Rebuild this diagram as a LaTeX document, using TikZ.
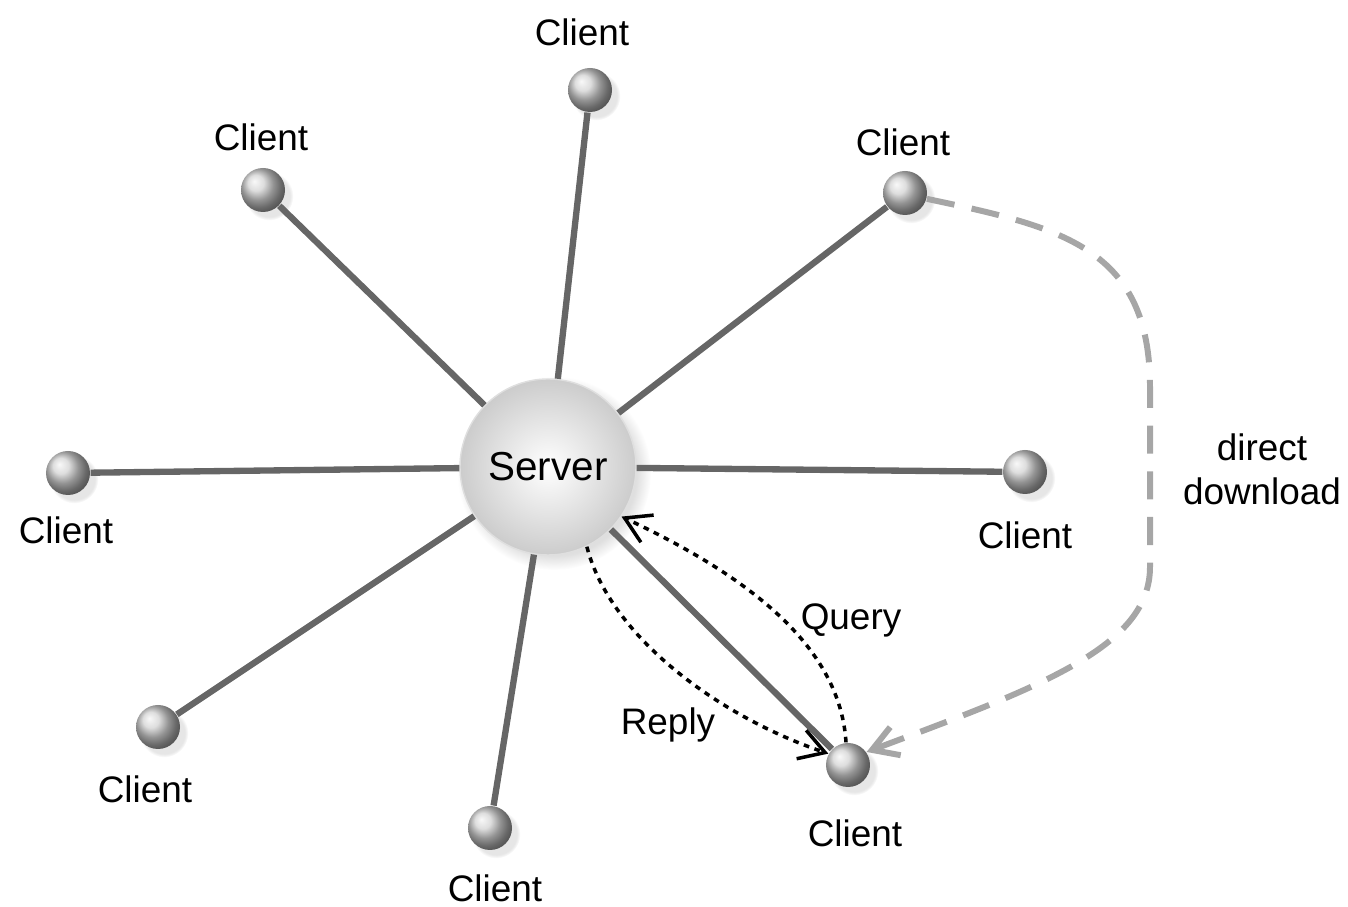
\documentclass[tikz,border=0pt]{standalone}
\usepackage{fontspec}
\setmainfont{Liberation Sans}
\usetikzlibrary{arrows.meta,shadows}

\begin{document}
\begin{tikzpicture}[
 >={Straight Barb[length=2.5mm,width=3mm]},
 align=center,
 font=\fontsize{10.5}{12.5}\selectfont,
 server/.style={circle,minimum size=1.76cm,inner sep=0pt,shading=radial,inner color=white,outer color=gray!40,draw=gray!25,circular drop shadow={opacity=0.25},font=\fontsize{11.5}{13}\selectfont},
 client/.style={circle,minimum size=0.44cm,inner sep=0pt,ball color=gray!35,circular drop shadow={opacity=0.2}},
 link/.style={draw=gray!80!black,line width=1.8pt},
 msg/.style={->,dash pattern=on 1.6pt off 1.6pt,line width=1pt,black},
 download/.style={->,dash pattern=on 8pt off 5pt,line width=1.7pt,gray!70}
]
\useasboundingbox (0,0) rectangle (13.48,9.07);
\node (server) [server] at (5.48,4.40) {Server};
% clients round the server
\node (ct) [client] at (5.90,8.17) {};
\node (ctl) [client] at (2.63,7.17) {};
\node (ctr) [client] at (9.05,7.14) {};
\node (cl) [client] at (0.68,4.34) {};
\node (cr) [client] at (10.25,4.35) {};
\node (cbl) [client] at (1.58,1.80) {};
\node (cb) [client] at (4.90,0.79) {};
\node (cbr) [client] at (8.48,1.42) {};
\node (ct-txt) at (5.82,8.75) {Client};
\node (ctl-txt) at (2.61,7.70) {Client};
\node (ctr-txt) at (9.03,7.65) {Client};
\node (cl-txt) at (0.66,3.77) {Client};
\node (cr-txt) at (10.25,3.72) {Client};
\node (cbl-txt) at (1.45,1.18) {Client};
\node (cb-txt) at (4.95,0.19) {Client};
\node (cbr-txt) at (8.55,0.74) {Client};
\foreach \c in {ct,ctl,ctr,cl,cr,cbl,cb,cbr}
  \draw [link] (server) -- (\c);
% query and reply
\draw [msg] (cbr.95) .. controls (8.40,2.60) and (7.50,3.30) .. (server.-34);
\draw [msg] (server.-64) .. controls (6.10,2.70) and (7.20,1.90) .. (cbr.150);
\node (query) at (8.51,2.87) {Query};
\node (reply) at (6.68,1.82) {Reply};
% direct download
\draw [download] (ctr.-15) .. controls (10.60,6.80) and (11.50,6.60) .. (11.50,5.20)
  -- (11.50,3.40) .. controls (11.50,2.60) and (10.40,2.20) .. (cbr.35);
\node (dl) at (12.62,4.38) {direct\\download};
\end{tikzpicture}
\end{document}
